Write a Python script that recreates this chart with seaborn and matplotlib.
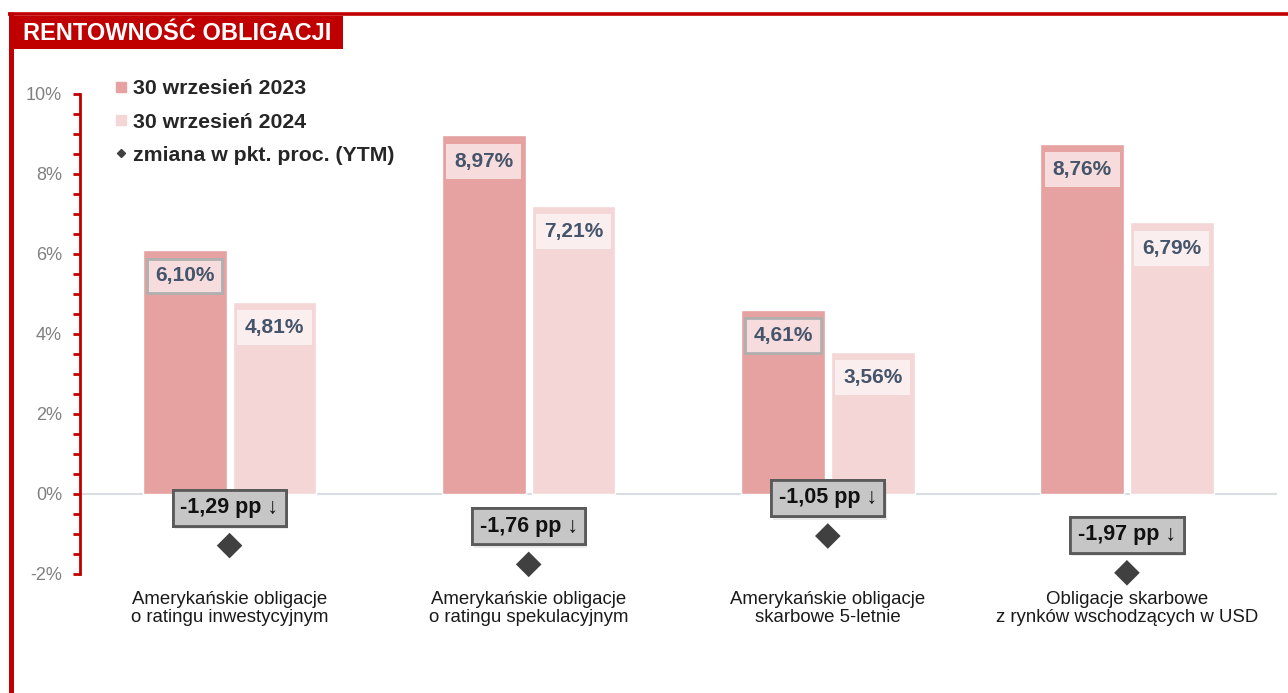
import pandas as pd
import matplotlib.pyplot as plt
import matplotlib.patheffects as pe
from matplotlib.patches import Rectangle
from matplotlib.lines import Line2D
from matplotlib.ticker import MultipleLocator, FuncFormatter
import seaborn as sns

# -------------------------------
# Dane
# -------------------------------
kategorie = [
    "Amerykańskie obligacje\no ratingu inwestycyjnym",
    "Amerykańskie obligacje\no ratingu spekulacyjnym",
    "Amerykańskie obligacje\nskarbowe 5-letnie",
    "Obligacje skarbowe\nz rynków wschodzących w USD",
]
serie = ["30 wrzesień 2023", "30 wrzesień 2024"]
rentownosc_2023 = [6.10, 8.97, 4.61, 8.76]
rentownosc_2024 = [4.81, 7.21, 3.56, 6.79]
zmiana = [-1.29, -1.76, -1.05, -1.97]
tytul = "RENTOWNOŚĆ OBLIGACJI"
legenda_zmiana = "zmiana w pkt. proc. (YTM)"

df = pd.DataFrame({
    "kategoria": kategorie * 2,
    "seria": [serie[0]] * 4 + [serie[1]] * 4,
    "wartosc": rentownosc_2023 + rentownosc_2024,
})

# -------------------------------
# Styl
# -------------------------------
sns.set_style("white")
plt.rcParams["font.family"] = ["Liberation Sans", "DejaVu Sans"]

RED = "#c00000"
C23 = "#e6a1a1"
C24 = "#f4d6d6"
TXT = "#44546a"

W, H = 1288, 693
fig = plt.figure(figsize=(W / 100, H / 100), dpi=100)
ax = fig.add_axes([80 / W, 1 - 574 / H, (1276.5 - 80) / W, (574 - 94) / H])

sns.barplot(data=df, x="kategoria", y="wartosc", hue="seria",
            palette=[C23, C24], width=0.6, gap=0.067, legend=False,
            saturation=1, ax=ax)

ax.axhline(0, color="#d9dee5", lw=1.5, zorder=0.5)

sns.scatterplot(x=list(range(4)), y=zmiana, marker="D", s=170,
                color="#404040", edgecolor="none", ax=ax, zorder=5,
                clip_on=False)

ax.set_ylim(-2, 10)
ax.set_xlim(-0.5, 3.5)

# -------------------------------
# Etykiety wartości
# -------------------------------
fill = [("#f6dcdc", ["#b0b0b0", "none", "#b0b0b0", "none"]),
        ("#fbeeee", ["none"] * 4)]
for ci, cont in enumerate(ax.containers):
    fc, ecs = fill[ci]
    for i, bar in enumerate(cont):
        xc = bar.get_x() + bar.get_width() / 2
        h = bar.get_height()
        ax.text(xc, h - 0.65, f"{h:.2f}%".replace(".", ","),
                ha="center", va="center", fontsize=15, fontweight="bold",
                color=TXT, zorder=6,
                bbox=dict(boxstyle="square,pad=0.38", fc=fc, ec=ecs[i],
                          lw=2 if ecs[i] != "none" else 0))

for i, v in enumerate(zmiana):
    t = ax.text(i, v + 0.95, f"{v:.2f} pp ↓".replace(".", ","),
                ha="center", va="center", fontsize=15.5, fontweight="bold",
                color="#111111", zorder=7,
                bbox=dict(boxstyle="square,pad=0.35", fc="#c6c6c6",
                          ec="#5a5a5a", lw=2))
    t.get_bbox_patch().set_path_effects([
        pe.withSimplePatchShadow(offset=(1.5, -2.5), shadow_rgbFace="#bbbbbb", alpha=0.3),
        pe.Normal()])

# -------------------------------
# Osie
# -------------------------------
for s in ["top", "right", "bottom"]:
    ax.spines[s].set_visible(False)
ax.spines["left"].set_color(RED)
ax.spines["left"].set_linewidth(2)
ax.yaxis.set_major_locator(MultipleLocator(2))
ax.yaxis.set_minor_locator(MultipleLocator(0.5))
ax.yaxis.set_major_formatter(FuncFormatter(lambda v, p: f"{v:.0f}%"))
ax.tick_params(axis="y", which="both", left=True, color=RED, width=2,
               length=5, direction="out")
ax.tick_params(axis="y", labelsize=13, labelcolor="#808080", pad=8)
ax.tick_params(axis="x", length=0, labelsize=13.4, labelcolor="#1a1a1a", pad=12)
ax.set_xlabel("")
ax.set_ylabel("")
for lab in ax.get_xticklabels():
    lab.set_linespacing(1.12)

# -------------------------------
# Legenda
# -------------------------------
handles = [
    Line2D([], [], marker="s", ls="none", ms=7.5, color=C23),
    Line2D([], [], marker="s", ls="none", ms=7.5, color=C24),
    Line2D([], [], marker="D", ls="none", ms=4.5, color="#404040"),
]
leg = fig.legend(handles, serie + [legenda_zmiana], loc="upper left",
                 bbox_to_anchor=(106 / W, 1 - 71 / H), frameon=False,
                 prop={"weight": "bold", "size": 15.3}, handlelength=0.6,
                 handletextpad=0.25, labelspacing=0.66, borderaxespad=0)

# -------------------------------
# Ramka i tytuł
# -------------------------------
fig.add_artist(Line2D([10.5 / W, 10.5 / W], [0, 1 - 12 / H], color=RED,
                      lw=3.6, solid_capstyle="butt", transform=fig.transFigure))
fig.add_artist(Line2D([8 / W, 1], [1 - 13.5 / H, 1 - 13.5 / H], color=RED,
                      lw=2.6, solid_capstyle="butt", transform=fig.transFigure))
fig.add_artist(Rectangle((14 / W, 1 - 49 / H), (343 - 14) / W, 33 / H,
                         facecolor=RED, edgecolor="none",
                         transform=fig.transFigure))
fig.text(23 / W, 1 - 33 / H, tytul, color="white", fontsize=17,
         fontweight="bold", va="center", ha="left")

plt.savefig("out.png", dpi=100)
